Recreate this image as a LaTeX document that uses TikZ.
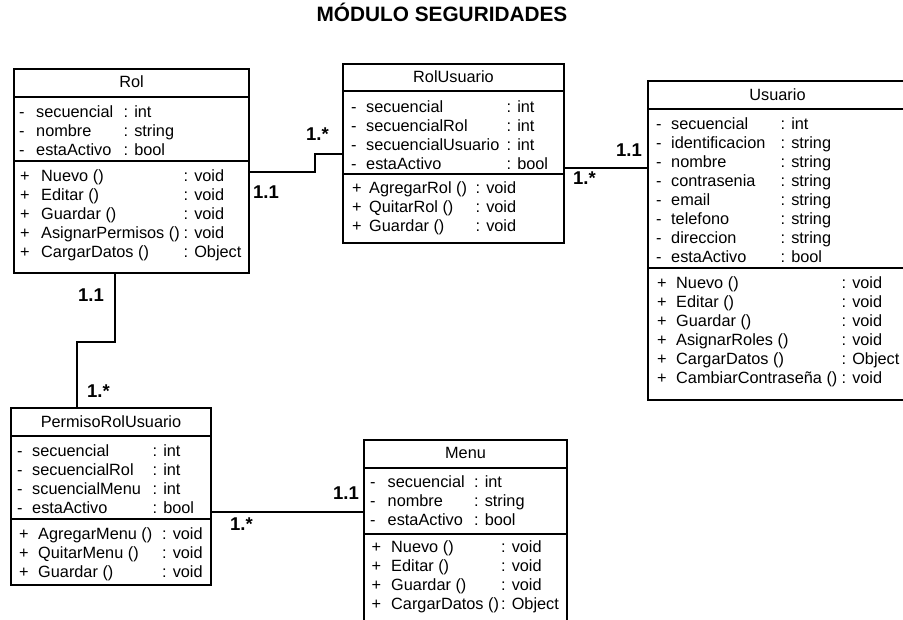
\documentclass[tikz,border=0pt]{standalone}
\usepackage{fontspec}
\setmainfont{Liberation Sans}
\begin{document}
\begin{tikzpicture}[x=1pt,y=-1pt,
  classbox/.style={draw=black,line width=2.2pt,fill=white,inner sep=0pt,outer sep=0pt,anchor=north west},
  sepline/.style={draw=black,line width=2.2pt},
  conn/.style={draw=black,line width=2.2pt},
  txt/.style={inner sep=0pt,anchor=base west,font=\fontsize{16.3}{19}\selectfont},
  head/.style={inner sep=0pt,anchor=base,font=\fontsize{16.3}{19}\selectfont},
  mult/.style={inner sep=0pt,anchor=base west,font=\fontsize{18.5}{20}\selectfont\bfseries},
  ttl/.style={inner sep=0pt,anchor=base,font=\fontsize{20.8}{24}\selectfont\bfseries}]

% page area
\path[use as bounding box,fill=white] (0,0) rectangle (903,619);
\clip (0,0) rectangle (903,619);

% rows of a compartment: name, sign, x sign, x name, x type, first baseline, list
\newcommand{\umlrows}[7]{%
  \foreach \nm/\ty [count=\i from 0] in {#7} {%
    \node[txt] (#1-\i-s) at (#3,{#6+19*\i}) {#2};
    \node[txt] (#1-\i-n) at (#4,{#6+19*\i}) {\nm};
    \node[txt] (#1-\i-t) at (#5,{#6+19*\i}) {: \ty};
  }}
% horizontal divider inside a class box, #2 below its top edge
\newcommand{\divider}[2]{%
  \draw[sepline] ([yshift=-#2pt]#1.north west) -- ([yshift=-#2pt]#1.north east);}

\node[ttl] (title) at (442,21) {MÓDULO SEGURIDADES};

% ---- Rol ----
\node[classbox,minimum width=235pt,minimum height=204pt] (rol) at (14,69) {};
\divider{rol}{28}
\divider{rol}{92}
\node[head] (rol-h) at (131.5,87) {Rol};
\umlrows{rola}{-}{19}{36}{123.5}{117}{secuencial/int, nombre/string, estaActivo/bool}
\umlrows{rolm}{+}{20}{41}{183.5}{181}{Nuevo ()/void, Editar ()/void, Guardar ()/void, AsignarPermisos ()/void, CargarDatos ()/Object}

% ---- RolUsuario ----
\node[classbox,minimum width=221pt,minimum height=179pt] (rolusuario) at (343,64) {};
\divider{rolusuario}{27}
\divider{rolusuario}{110}
\node[head] (rolusuario-h) at (453.5,82) {RolUsuario};
\umlrows{rua}{-}{351}{366}{506.5}{112}{secuencial/int, secuencialRol/int, secuencialUsuario/int, estaActivo/bool}
\umlrows{rum}{+}{352}{369}{475.5}{193}{AgregarRol ()/void, QuitarRol ()/void, Guardar ()/void}

% ---- Usuario ----
\node[classbox,minimum width=259pt,minimum height=319pt] (usuario) at (648,81) {};
\divider{usuario}{28}
\divider{usuario}{187}
\node[head] (usuario-h) at (777.5,100) {Usuario};
\umlrows{usa}{-}{656}{671}{780.5}{129}{secuencial/int, identificacion/string, nombre/string, contrasenia/string, email/string, telefono/string, direccion/string, estaActivo/bool}
\umlrows{usm}{+}{657}{676}{841.5}{288}{Nuevo ()/void, Editar ()/void, Guardar ()/void, AsignarRoles ()/void, CargarDatos ()/Object, CambiarContraseña ()/void}

% ---- PermisoRolUsuario ----
\node[classbox,minimum width=200pt,minimum height=177pt] (permiso) at (11,408) {};
\divider{permiso}{28}
\divider{permiso}{111}
\node[head] (permiso-h) at (111,427) {PermisoRolUsuario};
\umlrows{pra}{-}{17}{32}{152.5}{456}{secuencial/int, secuencialRol/int, scuencialMenu/int, estaActivo/bool}
\umlrows{prm}{+}{19}{38}{162}{539}{AgregarMenu ()/void, QuitarMenu ()/void, Guardar ()/void}

% ---- Menu ----
\node[classbox,minimum width=203pt,minimum height=200pt] (menu) at (364,440) {};
\divider{menu}{28}
\divider{menu}{94}
\node[head] (menu-h) at (465.5,458) {Menu};
\umlrows{mna}{-}{370}{387.5}{474}{487}{secuencial/int, nombre/string, estaActivo/bool}
\umlrows{mnm}{+}{371.5}{391}{501}{552}{Nuevo ()/void, Editar ()/void, Guardar ()/void, CargarDatos ()/Object}

% ---- associations ----
\draw[conn] ([yshift=-103pt]rol.north east) -- ++(66,0) |- ([yshift=-90pt]rolusuario.north west);
\draw[conn] ([yshift=-104pt]rolusuario.north east) -- ([yshift=-87pt]usuario.north west);
\draw[conn] ([xshift=101pt]rol.south west) -- ++(0,69) -| ([xshift=66pt]permiso.north west);
\draw[conn] ([yshift=-104pt]permiso.north east) -- ([yshift=-72pt]menu.north west);

% ---- multiplicities ----
\node[mult] (m1) at (253,198) {1.1};
\node[mult] (m2) at (306,140) {1.*};
\node[mult] (m3) at (573,184) {1.*};
\node[mult] (m4) at (616,156) {1.1};
\node[mult] (m5) at (78,301) {1.1};
\node[mult] (m6) at (87,397) {1.*};
\node[mult] (m7) at (230,530) {1.*};
\node[mult] (m8) at (333,499) {1.1};
\end{tikzpicture}
\end{document}
